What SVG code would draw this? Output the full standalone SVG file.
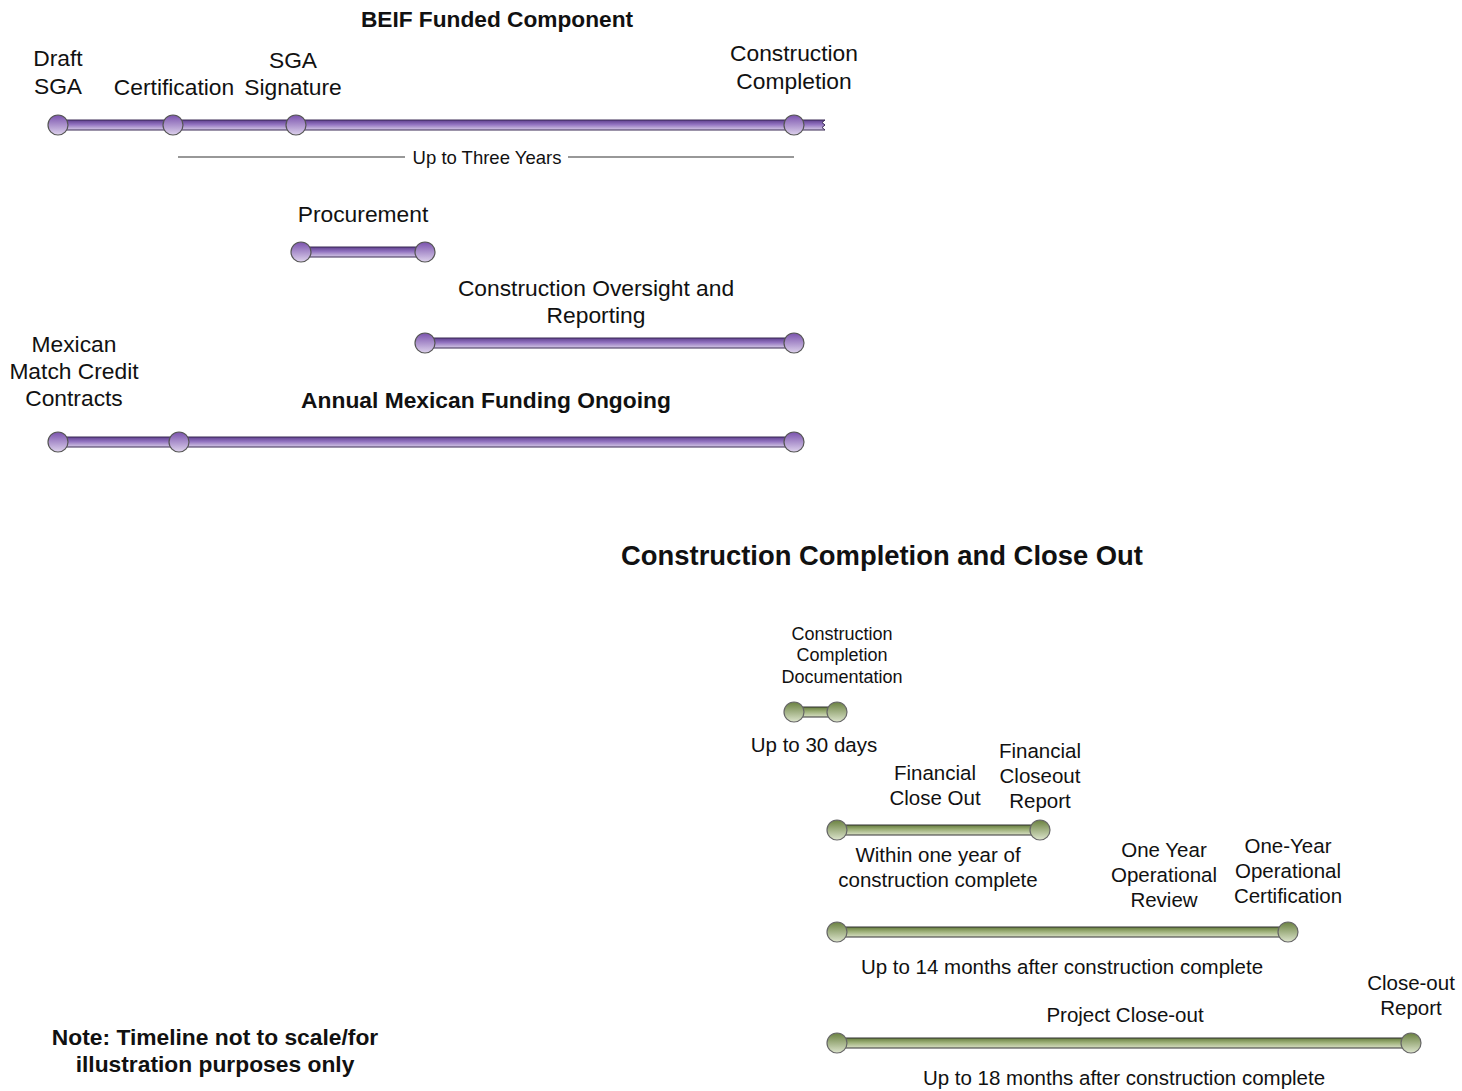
<svg xmlns="http://www.w3.org/2000/svg" width="1462" height="1091" viewBox="0 0 1462 1091">
<defs>
<linearGradient id="pb" x1="0" y1="0" x2="0" y2="1"><stop offset="0" stop-color="#5e3f8e"/><stop offset="0.45" stop-color="#9273c0"/><stop offset="1" stop-color="#d6cbe6"/></linearGradient>
<linearGradient id="pc" x1="0" y1="0" x2="0" y2="1"><stop offset="0" stop-color="#7a52ad"/><stop offset="1" stop-color="#ddd2ec"/></linearGradient>
<linearGradient id="gb" x1="0" y1="0" x2="0" y2="1"><stop offset="0" stop-color="#647b3c"/><stop offset="0.45" stop-color="#9db078"/><stop offset="1" stop-color="#d9e0c6"/></linearGradient>
<linearGradient id="gc" x1="0" y1="0" x2="0" y2="1"><stop offset="0" stop-color="#6a8140"/><stop offset="1" stop-color="#dce4cc"/></linearGradient>
<style>
text{font-family:"Liberation Sans",Arial,sans-serif;fill:#111;text-anchor:middle}
.t{font-size:22.8px}
.s{font-size:18px}
.m{font-size:20.5px}
.b{font-weight:bold}
.pbar{fill:url(#pb);stroke:#3a2a55;stroke-width:1}
.pc{fill:url(#pc);stroke:#555;stroke-width:1.2}
.gbar{fill:url(#gb);stroke:#333;stroke-width:1}
.gc{fill:url(#gc);stroke:#666;stroke-width:1.2}
.ln{stroke:#333;stroke-width:1.2}
</style>
</defs>
<g id="titles">
<text class="b" x="497" y="27" style="font-size:22.7px">BEIF Funded Component</text>
<text class="b" x="486" y="408" style="font-size:22.8px">Annual Mexican Funding Ongoing</text>
<text class="b" x="882" y="565" style="font-size:27.4px">Construction Completion and Close Out</text>
<text class="b" x="215" y="1045" style="font-size:22.8px">Note: Timeline not to scale/for</text>
<text class="b" x="215" y="1072" style="font-size:22.8px">illustration purposes only</text>
</g>
<g id="connectors">
<line class="ln" x1="178" y1="157" x2="405" y2="157"/>
<line class="ln" x1="568" y1="157" x2="794" y2="157"/>
</g>
<g id="bar-beif">
<path class="pbar" d="M58 120 H825 L822 122.5 L825 125 L822 127.5 L825 130 H58 Z"/>
<circle class="pc" cx="58" cy="125" r="10"/>
<circle class="pc" cx="173" cy="125" r="10"/>
<circle class="pc" cx="296" cy="125" r="10"/>
<circle class="pc" cx="794" cy="125" r="10"/>
<text class="t" x="58" y="66">Draft</text>
<text class="t" x="58" y="94">SGA</text>
<text class="t" x="174" y="95">Certification</text>
<text class="t" x="293" y="68">SGA</text>
<text class="t" x="293" y="95">Signature</text>
<text class="t" x="794" y="61">Construction</text>
<text class="t" x="794" y="89">Completion</text>
<text x="487" y="164" style="font-size:18.5px">Up to Three Years</text>
</g>
<g id="bar-procurement">
<rect class="pbar" x="301" y="247" width="124" height="10"/>
<circle class="pc" cx="301" cy="252" r="10"/>
<circle class="pc" cx="425" cy="252" r="10"/>
<text class="t" x="363" y="222">Procurement</text>
</g>
<g id="bar-oversight">
<rect class="pbar" x="425" y="338" width="369" height="10"/>
<circle class="pc" cx="425" cy="343" r="10"/>
<circle class="pc" cx="794" cy="343" r="10"/>
<text class="t" x="596" y="296">Construction Oversight and</text>
<text class="t" x="596" y="323">Reporting</text>
</g>
<g id="bar-mexican">
<rect class="pbar" x="58" y="437" width="736" height="10"/>
<circle class="pc" cx="58" cy="442" r="10"/>
<circle class="pc" cx="179" cy="442" r="10"/>
<circle class="pc" cx="794" cy="442" r="10"/>
<text class="t" x="74" y="352">Mexican</text>
<text class="t" x="74" y="379">Match Credit</text>
<text class="t" x="74" y="406">Contracts</text>
</g>
<g id="bar-docs">
<rect class="gbar" x="794" y="707" width="43" height="10"/>
<circle class="gc" cx="794" cy="712" r="10"/>
<circle class="gc" cx="837" cy="712" r="10"/>
<text class="s" x="842" y="640">Construction</text>
<text class="s" x="842" y="661">Completion</text>
<text class="s" x="842" y="683">Documentation</text>
<text class="m" x="814" y="752">Up to 30 days</text>
</g>
<g id="bar-financial">
<rect class="gbar" x="837" y="825" width="203" height="10"/>
<circle class="gc" cx="837" cy="830" r="10"/>
<circle class="gc" cx="1040" cy="830" r="10"/>
<text class="m" x="935" y="780">Financial</text>
<text class="m" x="935" y="805">Close Out</text>
<text class="m" x="1040" y="758">Financial</text>
<text class="m" x="1040" y="783">Closeout</text>
<text class="m" x="1040" y="808">Report</text>
<text class="m" x="938" y="862">Within one year of</text>
<text class="m" x="938" y="887">construction complete</text>
</g>
<g id="bar-operational">
<rect class="gbar" x="837" y="927" width="451" height="10"/>
<circle class="gc" cx="837" cy="932" r="10"/>
<circle class="gc" cx="1288" cy="932" r="10"/>
<text class="m" x="1164" y="857">One Year</text>
<text class="m" x="1164" y="882">Operational</text>
<text class="m" x="1164" y="907">Review</text>
<text class="m" x="1288" y="853">One-Year</text>
<text class="m" x="1288" y="878">Operational</text>
<text class="m" x="1288" y="903">Certification</text>
<text class="m" x="1062" y="974">Up to 14 months after construction complete</text>
</g>
<g id="bar-closeout">
<rect class="gbar" x="837" y="1038" width="574" height="10"/>
<circle class="gc" cx="837" cy="1043" r="10"/>
<circle class="gc" cx="1411" cy="1043" r="10"/>
<text class="m" x="1411" y="990">Close-out</text>
<text class="m" x="1411" y="1015">Report</text>
<text class="m" x="1125" y="1022">Project Close-out</text>
<text class="m" x="1124" y="1085">Up to 18 months after construction complete</text>
</g>
</svg>
